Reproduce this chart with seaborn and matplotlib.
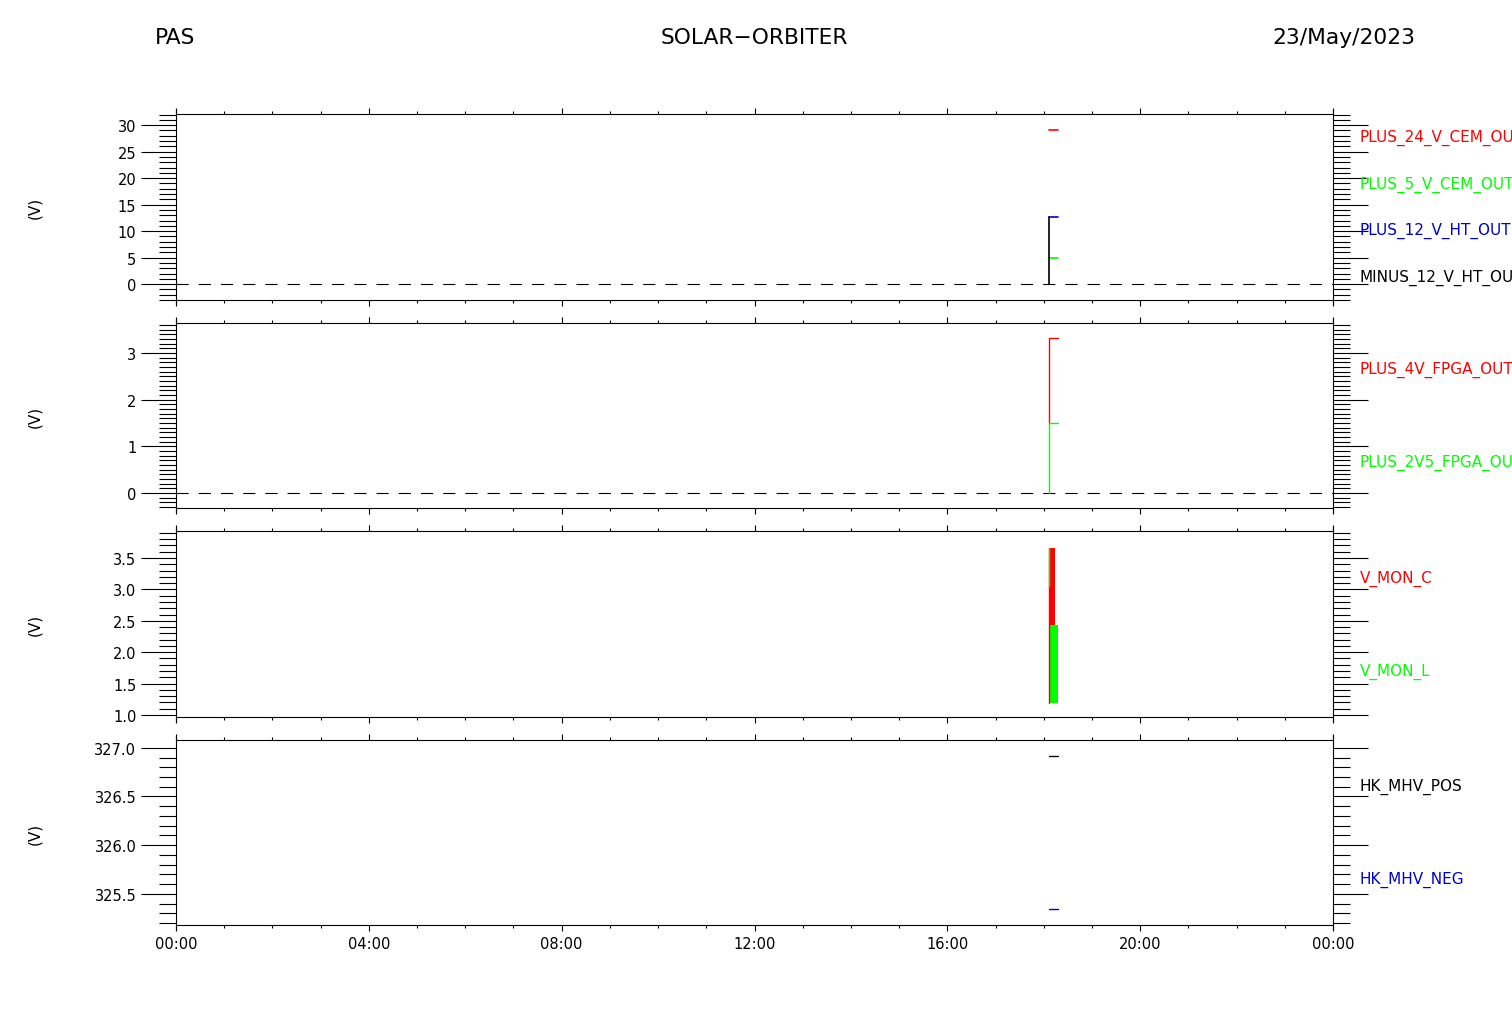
import matplotlib
matplotlib.use('Agg')
import matplotlib.pyplot as plt
import seaborn as sns
from matplotlib.ticker import FixedLocator, MultipleLocator, FuncFormatter

sns.set_style('white')
plt.rcParams['font.family'] = ['DejaVu Sans']
plt.rcParams['text.color'] = 'black'
plt.rcParams['xtick.color'] = 'black'
plt.rcParams['ytick.color'] = 'black'

RED = '#ff0000'
GREEN = '#00ff00'
BLUE = '#0000cc'
BLACK = 'black'

# time axis in hours of the day
hour_ticks = [0, 4, 8, 12, 16, 20, 24]
hour_labels = ['00:00', '04:00', '08:00', '12:00', '16:00', '20:00', '00:00']

# panel 1 : CEM / HT supplies
p1_names = ['PLUS_24_V_CEM_OUT', 'PLUS_5_V_CEM_OUT', 'PLUS_12_V_HT_OUT', 'MINUS_12_V_HT_OUT']
p1_colors = [RED, GREEN, BLUE, BLACK]
p1_times = [[18.118, 18.30], [18.118, 18.30], [18.118, 18.30], [18.118, 18.118]]
p1_values = [[29.1, 29.1], [4.85, 4.85], [12.75, 12.75], [0.0, 12.75]]

# panel 2 : FPGA supplies
p2_names = ['PLUS_4V_FPGA_OUT', 'PLUS_2V5_FPGA_OUT']
p2_colors = [RED, GREEN]
p2_times = [[18.118, 18.118, 18.30], [18.118, 18.118, 18.30]]
p2_values = [[1.51, 3.31, 3.31], [0.0, 1.51, 1.51]]

# panel 3 : monitor voltages (dense samples -> min/max envelopes)
p3_names = ['V_MON_C', 'V_MON_L']
p3_colors = [RED, GREEN]
p3_times = [[18.118, 18.237], [18.118, 18.29]]
p3_low = [[2.44, 2.44], [1.19, 1.19]]
p3_high = [[3.66, 3.66], [2.44, 2.44]]
p3_edge_times = [[18.118, 18.118], [18.112, 18.112]]
p3_edge_values = [[1.19, 3.66], [3.05, 3.66]]

# panel 4 : MHV
p4_names = ['HK_MHV_POS', 'HK_MHV_NEG']
p4_colors = [BLACK, BLUE]
p4_times = [[18.118, 18.30], [18.118, 18.30]]
p4_values = [[326.92, 326.92], [325.34, 325.34]]

fig = plt.figure(figsize=(15.12, 10.20), dpi=100)

W, H = 1512.0, 1020.0
left, right = 176 / W, 1333 / W
boxes = [(115, 301), (324, 509), (532, 718), (741, 926)]
axes = [fig.add_axes([left, 1 - b / H, right - left, (b - t) / H]) for t, b in boxes]

ylims = [(-3.0, 32.1), (-0.32, 3.64), (0.968, 3.93), (325.18, 327.08)]
yticks = [[0, 5, 10, 15, 20, 25, 30], [0, 1, 2, 3],
          [1.0, 1.5, 2.0, 2.5, 3.0, 3.5], [325.5, 326.0, 326.5, 327.0]]
yminor = [1.0, 0.1, 0.1, 0.1]
yfmt = ['{:.0f}', '{:.0f}', '{:.1f}', '{:.1f}']
label_names = [p1_names, p2_names, p3_names, p4_names]
label_colors = [p1_colors, p2_colors, p3_colors, p4_colors]

for i, ax in enumerate(axes):
    ax.set_xlim(0, 24)
    ax.set_ylim(*ylims[i])

    # ticks
    ax.xaxis.set_major_locator(FixedLocator(hour_ticks))
    ax.xaxis.set_minor_locator(MultipleLocator(1))
    ax.yaxis.set_major_locator(FixedLocator(yticks[i]))
    ax.yaxis.set_minor_locator(MultipleLocator(yminor[i]))
    ax.yaxis.set_major_formatter(FuncFormatter(lambda v, p, f=yfmt[i]: f.format(v)))
    ax.tick_params(axis='x', which='major', direction='out', length=4.3, width=0.8,
                   top=True, bottom=True, labelsize=10.5)
    ax.tick_params(axis='x', which='minor', direction='out', length=2.2, width=0.8,
                   top=True, bottom=True)
    ax.tick_params(axis='y', which='major', direction='out', length=25, width=0.8,
                   left=True, right=True, labelsize=10.5, pad=3.5)
    ax.tick_params(axis='y', which='minor', direction='out', length=12.2, width=0.8,
                   left=True, right=True)
    if i == 3:
        ax.set_xticklabels(hour_labels)
    else:
        ax.tick_params(axis='x', labelbottom=False)

    # frame: horizontal spines normal, vertical ones slightly longer than the box
    for side in ['top', 'bottom']:
        ax.spines[side].set_linewidth(0.8)
        ax.spines[side].set_color('black')
    for side in ['left', 'right']:
        ax.spines[side].set_visible(False)
    for xs in [0, 1]:
        ax.plot([xs, xs], [-0.027, 1.027], transform=ax.transAxes, color='black',
                lw=0.8, clip_on=False)

    # right-hand labels (cut by the figure edge, as in the original)
    n = len(label_names[i])
    for k, (name, col) in enumerate(zip(label_names[i], label_colors[i])):
        ax.text(1.0233, 1 - (k + 0.5) / n, name, transform=ax.transAxes, ha='left',
                va='center', fontsize=11, color=col, clip_on=False)

    fig.text(35 / W, 1 - (boxes[i][0] + boxes[i][1]) / 2 / H, '(V)', rotation=90,
             ha='center', va='center', fontsize=11)

# panel 1
ax = axes[0]
ax.axhline(0, color='black', lw=0.8, ls=(0, (11, 9)))
for t, v, c in zip(p1_times, p1_values, p1_colors):
    sns.lineplot(x=t, y=v, estimator=None, sort=False, color=c, lw=1.2, ax=ax)

# panel 2
ax = axes[1]
ax.axhline(0, color='black', lw=0.8, ls=(0, (11, 9)))
for t, v, c in zip(p2_times, p2_values, p2_colors):
    sns.lineplot(x=t, y=v, estimator=None, sort=False, color=c, lw=1.0, ax=ax)

# panel 3
ax = axes[2]
for t, lo, hi, c in zip(p3_times[::-1], p3_low[::-1], p3_high[::-1], p3_colors[::-1]):
    ax.fill_between(t, lo, hi, color=c, lw=0)
for t, v, c in zip(p3_edge_times, p3_edge_values, p3_colors):
    sns.lineplot(x=t, y=v, estimator=None, sort=False, color=c, lw=1.0, ax=ax)

# panel 4
ax = axes[3]
for t, v, c in zip(p4_times, p4_values, p4_colors):
    sns.lineplot(x=t, y=v, estimator=None, sort=False, color=c, lw=1.0, ax=ax)

for ax in axes:
    ax.set_xlabel('')
    ax.set_ylabel('')

# header
fig.text(155 / W, 1 - 38 / H, 'PAS', ha='left', va='center', fontsize=15.7)
fig.text(754 / W, 1 - 38 / H, 'SOLAR\u2212ORBITER', ha='center', va='center', fontsize=15.7)
fig.text(1415 / W, 1 - 38 / H, '23/May/2023', ha='right', va='center', fontsize=15.7)

fig.savefig('out.png', dpi=100)
